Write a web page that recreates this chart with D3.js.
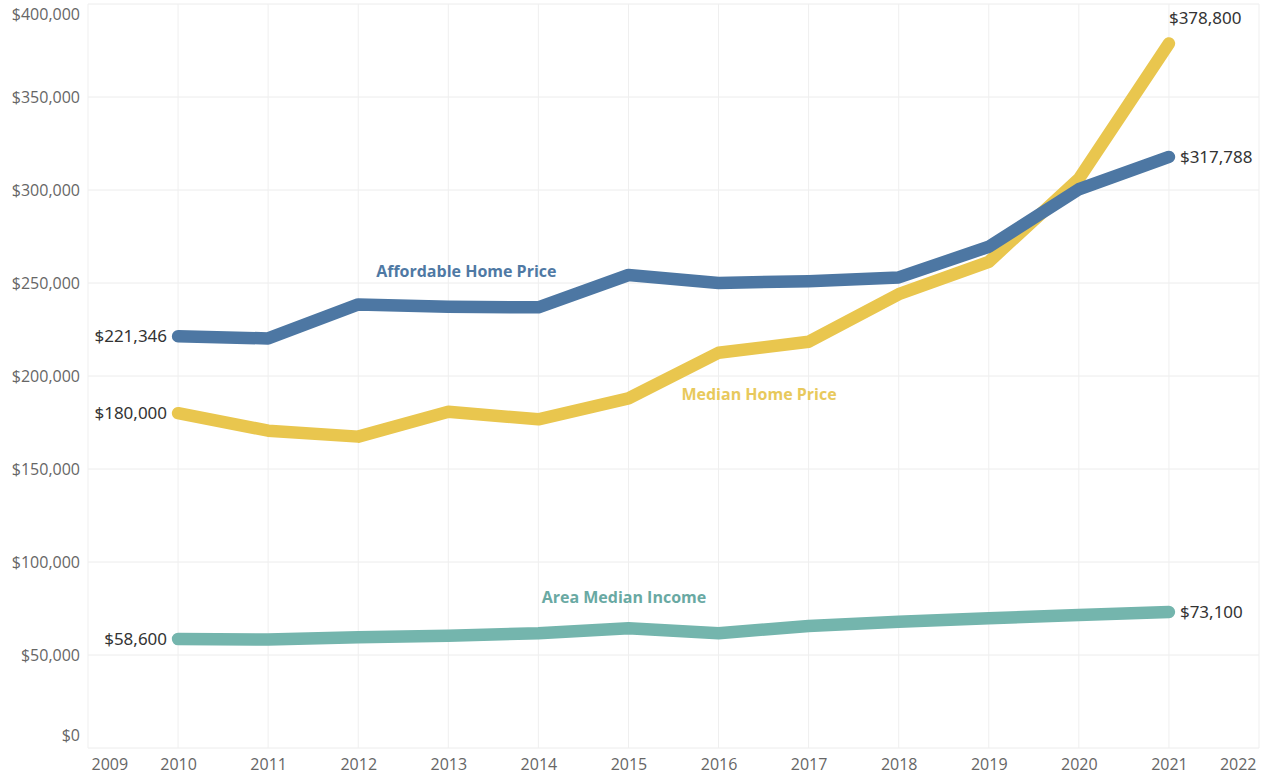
<!DOCTYPE html>
<html>
<head>
<meta charset="utf-8">
<script src="https://cdn.jsdelivr.net/npm/d3@7"></script>
<style>
  html, body { margin: 0; padding: 0; background: #fff; }
  svg { display: block; }
</style>
</head>
<body>
<svg id="chart" width="1265" height="776"></svg>
<script>
// Years on the x axis (2009 and 2022 are padding columns with no data)
const years = [2010, 2011, 2012, 2013, 2014, 2015, 2016, 2017, 2018, 2019, 2020, 2021];
const axisYears = [2009, 2010, 2011, 2012, 2013, 2014, 2015, 2016, 2017, 2018, 2019, 2020, 2021, 2022];

// Series values (US$)
const affordableHomePrice = [221346, 220200, 238500, 237200, 236900, 254300, 250000, 251000, 253000, 269500, 300400, 317788];
const medianHomePrice     = [180000, 170600, 167400, 180800, 176700, 188000, 212500, 218400, 244000, 261400, 306000, 378800];
const areaMedianIncome    = [58600, 58300, 59500, 60400, 61700, 64400, 61700, 65600, 67900, 69700, 71500, 73100];

// Value axis ticks
const yTicks = [0, 50000, 100000, 150000, 200000, 250000, 300000, 350000, 400000];

(function draw() {
  const svg = d3.select("#chart");
  const plot = { left: 88, right: 1259, top: 4, bottom: 748 };

  const x = d3.scaleLinear().domain([2009, 2022]).range([plot.left, plot.right]);
  const y = d3.scaleLinear().domain([0, 400000]).range([plot.bottom, plot.top]);
  const money = d3.format("$,");

  // Gridlines
  const grid = svg.append("g");
  grid.selectAll("line.h").data(yTicks).join("line")
    .attr("x1", plot.left).attr("x2", plot.right)
    .attr("y1", d => y(d)).attr("y2", d => y(d))
    .attr("stroke", "#ececec").attr("stroke-width", 1);
  grid.selectAll("line.v").data(axisYears).join("line")
    .attr("x1", d => x(d)).attr("x2", d => x(d))
    .attr("y1", plot.top).attr("y2", plot.bottom)
    .attr("stroke", "#efefef").attr("stroke-width", 1);

  // Y axis labels (top and bottom labels are kept inside the chart)
  const yAxis = d3.axisLeft(y).tickValues(yTicks).tickFormat(money).tickSize(0).tickPadding(8);
  const yg = svg.append("g").attr("transform", `translate(${plot.left},0)`).call(yAxis);
  yg.select(".domain").remove();
  yg.selectAll("text")
    .attr("fill", "#666").style("font-family", "'Open Sans', sans-serif").style("font-size", "16px")
    .attr("dy", d => d === 400000 ? "0.95em" : d === 0 ? "-0.5em" : "0.32em");

  // X axis labels
  const xAxis = d3.axisBottom(x).tickValues(axisYears).tickFormat(d3.format("d")).tickSize(0).tickPadding(11);
  const xg = svg.append("g").attr("transform", `translate(0,${plot.bottom})`).call(xAxis);
  xg.select(".domain").remove();
  xg.selectAll("text")
    .attr("fill", "#666").style("font-family", "'Open Sans', sans-serif").style("font-size", "16px")
    .attr("text-anchor", d => d === 2009 ? "start" : d === 2022 ? "end" : "middle")
    .attr("dx", d => d === 2009 ? 3 : d === 2022 ? -3 : 0);

  // Lines
  const series = [
    { name: "Area Median Income", values: areaMedianIncome, color: "#74b5ad" },
    { name: "Median Home Price", values: medianHomePrice, color: "#e9c64e" },
    { name: "Affordable Home Price", values: affordableHomePrice, color: "#4d77a3" }
  ];
  const line = d3.line().x((d, i) => x(years[i])).y(d => y(d));
  svg.append("g").selectAll("path").data(series).join("path")
    .attr("d", d => line(d.values))
    .attr("fill", "none").attr("stroke", d => d.color)
    .attr("stroke-width", 12.5).attr("stroke-linecap", "round").attr("stroke-linejoin", "round");

  // Start and end value labels
  const labels = svg.append("g").style("font-family", "'Noto Sans', sans-serif").style("font-size", "17px").attr("fill", "#333");
  series.forEach(s => {
    const first = s.values[0], last = s.values[s.values.length - 1];
    labels.append("text")
      .attr("x", x(years[0]) - 11).attr("y", y(first)).attr("dy", "0.35em")
      .attr("text-anchor", "end").text(money(first));
    const above = s.name === "Median Home Price";
    labels.append("text")
      .attr("x", x(years[years.length - 1]) + (above ? 0 : 11))
      .attr("y", above ? y(last) - 25 : y(last)).attr("dy", "0.35em")
      .attr("text-anchor", "start").text(money(last));
  });

  // Series name labels
  const names = [
    { text: "Affordable Home Price", year: 2013.2, value: 256000, color: "#4f79a4" },
    { text: "Median Home Price", year: 2016.45, value: 190000, color: "#e8c95c" },
    { text: "Area Median Income", year: 2014.95, value: 80800, color: "#69a9a3" }
  ];
  svg.append("g").selectAll("text").data(names).join("text")
    .attr("x", d => x(d.year)).attr("y", d => y(d.value)).attr("dy", "0.35em")
    .attr("text-anchor", "middle").attr("fill", d => d.color)
    .style("font-family", "'Open Sans', sans-serif").style("font-size", "16px").style("font-weight", 700)
    .text(d => d.text);
})();
</script>
</body>
</html>
